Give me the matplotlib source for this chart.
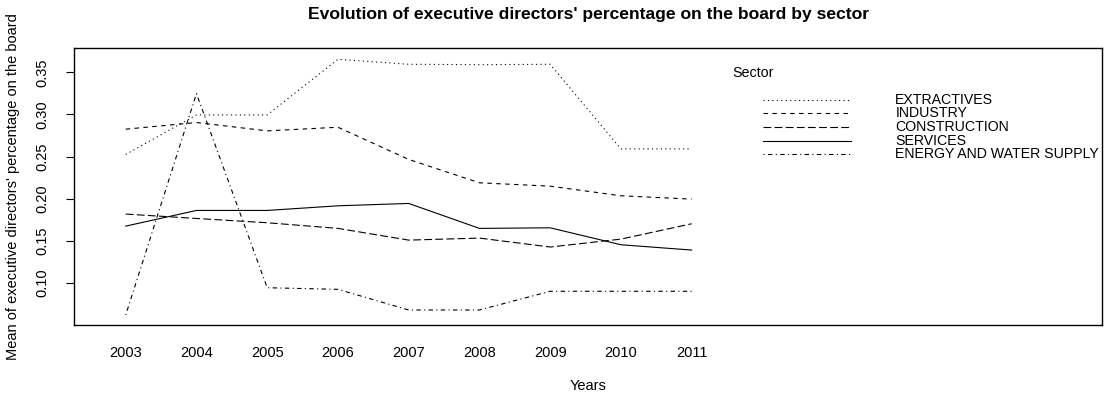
import matplotlib
matplotlib.use('agg')
import matplotlib.pyplot as plt

plt.rcParams['font.family'] = ['Liberation Sans', 'DejaVu Sans']

# mean share of executive directors on the board, per sector and year
years = [2003, 2004, 2005, 2006, 2007, 2008, 2009, 2010, 2011]
sectors = ["EXTRACTIVES", "INDUSTRY", "CONSTRUCTION", "SERVICES",
           "ENERGY AND WATER SUPPLY"]
extractives = [0.2525, 0.2994, 0.2994, 0.3654, 0.3595, 0.3590, 0.3595, 0.2591, 0.2591]
industry = [0.2825, 0.2904, 0.2805, 0.2848, 0.2466, 0.2189, 0.2149, 0.2035, 0.1995]
construction = [0.1818, 0.1766, 0.1715, 0.1648, 0.1509, 0.1533, 0.1427, 0.1521, 0.1703]
services = [0.1675, 0.1861, 0.1861, 0.1916, 0.1944, 0.1648, 0.1655, 0.1454, 0.1391]
energy = [0.0621, 0.3247, 0.0944, 0.0925, 0.0680, 0.0680, 0.0902, 0.0902, 0.0902]
yticks = [0.10, 0.15, 0.20, 0.25, 0.30, 0.35]

# R style line types: dotted, dashed, longdash, solid, dotdash
styles = [(0, (1, 3)), (0, (4, 4)), (0, (7, 3)), '-', (0, (1, 3, 4, 3))]
series = [extractives, industry, construction, services, energy]

fig = plt.figure(figsize=(11.04, 3.99), dpi=100)
ax = fig.add_axes([74/1104, 1-325/399, (1102-74)/1104, (325-48)/399])

for vals, ls in zip(series, styles):
    ax.plot(years, vals, color='black', lw=0.8, linestyle=ls)

ax.set_xlim(2002.269, 2016.80)
ax.set_ylim(0.0502, 0.3788)

ax.set_xticks(years)
ax.set_xticklabels([str(y) for y in years])
ax.tick_params(axis='x', length=0, pad=15, labelsize=10.5)
ax.set_yticks(yticks)
ax.set_yticklabels(["%.2f" % t for t in yticks], rotation=90, va='center')
ax.tick_params(axis='y', length=6, width=0.8, pad=12, labelsize=10.5)
for sp in ax.spines.values():
    sp.set_linewidth(1.0)

ax.set_xlabel("Years", fontsize=10.5, labelpad=14)
ax.set_ylabel("Mean of executive directors' percentage on the board", fontsize=10.5, labelpad=11)
fig.text(0.5 * (74 + 1102) / 1104, 1 - 15/399,
         "Evolution of executive directors' percentage on the board by sector",
         ha='center', va='center', fontsize=12.6, fontweight='bold')

# legend drawn like R's interaction.plot
ax.text(0.640, 0.908, "Sector", transform=ax.transAxes, fontsize=10.3,
        ha='left', va='center')
row_y = [0.813, 0.764, 0.715, 0.666, 0.618]
for name, ls, ry in zip(sectors, styles, row_y):
    ax.plot([0.670, 0.756], [ry, ry], transform=ax.transAxes, color='black',
            lw=0.8, linestyle=ls, clip_on=False)
    ax.text(0.799, ry, name, transform=ax.transAxes, fontsize=10.2,
            ha='left', va='center')

fig.savefig('out.png', dpi=100)
